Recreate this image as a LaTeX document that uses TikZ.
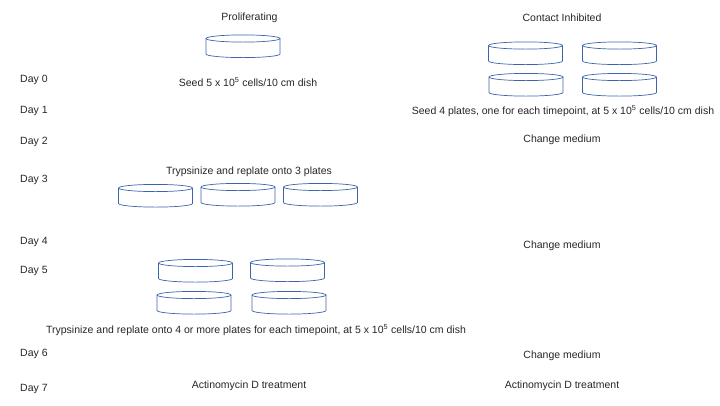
\documentclass[tikz,border=0pt]{standalone}
\usepackage{fontspec}
\setmainfont{Liberation Sans}
\usetikzlibrary{positioning}
\definecolor{dishblue}{RGB}{60,100,170}
\definecolor{labelgrey}{RGB}{38,38,38}

\begin{document}
\begin{tikzpicture}[
    x=1pt, y=-1pt,
    label/.style={text=labelgrey, font=\fontsize{10.5}{12}\selectfont, inner sep=0pt},
    daylabel/.style={label, anchor=west},
    dish/.pic={
        \draw[dishblue, line width=0.7pt] (0,0) ellipse [x radius=37, y radius=3.6];
        \draw[dishblue, line width=0.7pt] (-37,0) -- (-37,15.5) arc [start angle=180, end angle=0, x radius=37, y radius=3.6] -- (37,0);
    }
]
\useasboundingbox (0,0) rectangle (720,405);

% Days
\node[daylabel] (day0) at (20,79.5) {Day 0};
\node[daylabel] (day1) at (20,110.5) {Day 1};
\node[daylabel] (day2) at (20,141.5) {Day 2};
\node[daylabel] (day3) at (20,179.5) {Day 3};
\node[daylabel] (day4) at (20,241.5) {Day 4};
\node[daylabel] (day5) at (20,270.5) {Day 5};
\node[daylabel] (day6) at (20,353.5) {Day 6};
\node[daylabel] (day7) at (20,388.5) {Day 7};

% Proliferating
\node[label] (prolif) at (249.5,18) {Proliferating};
\pic at (243,38.5) {dish};
\node[label] (seedprolif) at (248,82) {Seed 5 x 10\textsuperscript{5} cells/10 cm dish};
\node[label] (replate3) at (249,172) {Trypsinize and replate onto 3 plates};
\pic at (155.5,188) {dish};
\pic at (238,187) {dish};
\pic at (320.5,187) {dish};
\pic at (195.5,263) {dish};
\pic at (287.5,262.5) {dish};
\pic at (194,295) {dish};
\pic at (289,295) {dish};
\node[label] (replate4) at (256,330) {Trypsinize and replate onto 4 or more plates for each timepoint, at 5 x 10\textsuperscript{5} cells/10 cm dish};
\node[label] (actprolif) at (249,386) {Actinomycin D treatment};

% Contact inhibited
\node[label] (contact) at (562,18) {Contact Inhibited};
\pic at (525.5,45.5) {dish};
\pic at (619.5,45.5) {dish};
\pic at (526,77) {dish};
\pic at (619.5,77) {dish};
\node[label] (seedcontact) at (563,111) {Seed 4 plates, one for each timepoint, at 5 x 10\textsuperscript{5} cells/10 cm dish};
\node[label] (change2) at (562,139.5) {Change medium};
\node[label] (change4) at (562,245.5) {Change medium};
\node[label] (change6) at (562,355.5) {Change medium};
\node[label] (actcontact) at (562,386) {Actinomycin D treatment};

\end{tikzpicture}
\end{document}
